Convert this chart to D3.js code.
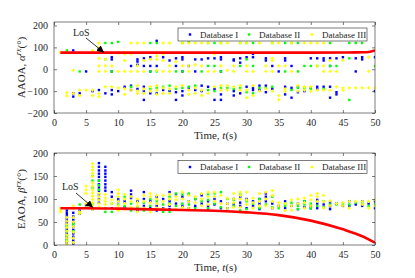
<!DOCTYPE html>
<html>
<head>
<meta charset="utf-8">
<script src="https://cdn.jsdelivr.net/npm/d3@7"></script>
<style>
  body { margin: 0; background: #fff; }
  svg { display: block; }
  text { font-family: "Liberation Serif", "Times New Roman", serif; fill: #262626; }
</style>
</head>
<body>
<div class="chart"></div>
<script>
// AAOA / EAOA scatter vs time, one column of samples per second

var xTicks = [0, 5, 10, 15, 20, 25, 30, 35, 40, 45, 50]
var aaoaTicks = [-200, -100, 0, 100, 200]
var eaoaTicks = [0, 50, 100, 150, 200]
var dbNames = ["Database I", "Database II", "Database III"]

// LoS reference curves
var aaoaLosT = [1, 10, 20, 30, 40, 45, 47, 48, 49, 50]
var aaoaLosV = [76, 76, 76, 76, 76, 76.5, 77, 77.5, 79, 86]
var eaoaLosT = [1, 5, 10, 15, 20, 25, 30, 35, 40, 45, 48, 50]
var eaoaLosV = [80, 80, 79, 77.5, 76, 74.5, 71, 65, 53, 34, 19, 5]

// AAOA samples: [t, [values]]
var aaoaDb1 = [[3,[86,-110,-125]],[4,[-110]],[5,[-10]],[6,[-100]],[7,[95,90,-95]],[8,[-110]],
  [9,[55,45,-10,-95,-115]],[10,[75,-100]],[11,[-80]],[12,[15,-75,-95]],[13,[45,35,20,-90]],
  [14,[50,15,-80,-100,-140]],[15,[55,15,-10,-110]],[16,[130,15,-110]],[17,[55,-95]],[18,[40,-100]],
  [19,[50,15,-105,-140]],[20,[55,45,-10,-100,-120]],[21,[15,-85]],[22,[45,-10,-95]],[23,[45,-75,-100]],
  [24,[50,-80]],[25,[50,-90,-140]],[26,[55,45,-10,-115,-140]],[28,[45,40,-100,-120]],[29,[50,30,-110]],
  [30,[55,-80]],[31,[70,55,-85,-95]],[32,[-75,-95]],[33,[50,40,-75,-105]],[34,[15,-90]],[35,[-10]],
  [36,[50,40,-80,-115]],[37,[15,-85,-130]],[38,[-80,-105]],[39,[-100]],[40,[50,-85]],[41,[50,-80,-90]],
  [42,[50,40,-80]],[43,[50,15,-80,-130]],[44,[50,-105,-115]],[45,[55]],[47,[50,-10]],[48,[55,45]],[50,[55,-100]]]
var aaoaDb2 = [[2,[86]],[4,[-10]],[8,[120,45]],[9,[120,-10]],[10,[125]],[12,[-80]],[15,[120,-10,-90]],
  [16,[120,-10,-85]],[17,[-80]],[18,[-75]],[19,[-10,-90]],[20,[120,-10,-85]],[21,[125,-80]],[22,[-75]],
  [23,[-10]],[24,[120,15,-95]],[25,[120,15,-100]],[26,[120,-10,-85]],[27,[-85]],[28,[-90]],[29,[120,15,-85]],
  [30,[120,45,-105]],[31,[120,15,-110]],[32,[-85]],[33,[-85]],[34,[120,-80]],[36,[120,-10]],[37,[120,-95]],
  [38,[120,-10,-85]],[39,[15,-85]],[40,[15,-90]],[41,[15]],[42,[-90]],[43,[120,15]],[44,[15]],
  [46,[120,50,-140]],[47,[120]],[48,[120]],[50,[15]]]
var aaoaDb3 = [[1,[77]],[2,[-107,-122]],[3,[-5,-110]],[4,[-95,-120]],[5,[-95]],[6,[85,-95,-120]],
  [7,[120,100,50,15,-10,-110,-125]],[8,[75,45,15,-10,-80]],[9,[15,-80]],[10,[75,-10,-85]],
  [11,[70,40,-10,-90,-115]],[12,[120,70,-10,-95]],[13,[120,15,-10,-75,-100,-110]],[14,[120,40,-10,-90,-110]],
  [15,[45,-80,-100]],[16,[75,60,45,-5,-75,-95,-115]],[17,[120,70,40,-10,-85,-110]],[18,[120,15,-10,-90,-110]],
  [19,[35,-80]],[20,[120,15,-75]],[21,[120,15,-10,-95,-115]],[22,[120,20,-85,-110]],[23,[120,15,-95,-120]],
  [24,[120,-10,-110]],[25,[70,-10,-80]],[26,[120,15,-75,-95]],[27,[120,-5,-75,-95]],[28,[15,-10,-80]],
  [29,[120,75,-75,-95]],[30,[120,15,-10,-95,-130]],[31,[-10,-75,-120]],[32,[120,-100]],[33,[15,-10,-90]],
  [34,[120,50,40,-10,-100]],[35,[120,15,-120,-140]],[36,[15,-90,-100]],[37,[120,-10]],[38,[-75,-100]],
  [39,[120,-80,-95]],[40,[120,-80,-100]],[41,[120,15,-95]],[42,[120,15,-10,-95]],[43,[40,-10,-95]],
  [44,[-10,-80]],[45,[40,-85,-95]],[46,[-85]],[47,[-85]],[48,[-85]],[49,[55,-10,-85]],[50,[-85]]]

// EAOA samples: [t, [values]]
var eaoaDb1 = [[2,[75,70,65,60,55,50,45,40,35,30,25,20,15,10,5,0]],[3,[70,62,55,48,40,33,25,18,10,3]],
  [4,[75,68]],[5,[88,85]],[6,[80,78]],[7,[178,170,162,155,148,140,132,125,118,110,100,92]],
  [8,[170,162,155,148,140,132,125,118]],[9,[115,105,80]],[10,[100,95]],[11,[95,82]],[12,[118,110,102,78]],
  [13,[95,75]],[14,[115,100,85]],[15,[95,80]],[16,[105,85,75]],[17,[100,80]],[18,[115,95,85,78]],
  [19,[110,90]],[20,[105,85]],[21,[110,95,80]],[22,[100,85]],[23,[108,90]],[24,[95,85,78]],[25,[100,88]],
  [26,[95,80]],[27,[90,80]],[28,[100,88]],[29,[105,92,85]],[30,[100,80]],[31,[95,85]],[32,[100,90,78]],
  [33,[112,105,95]],[34,[90,80]],[35,[85]],[36,[95,80]],[37,[85]],[38,[90,78]],[39,[95,82]],[40,[85,80]],
  [41,[98,90,80]],[42,[88]],[43,[92,84,78]],[44,[90]],[45,[85]],[46,[95,85]],[47,[88]],[48,[95,85]],
  [49,[90]],[50,[95,80]]]
var eaoaDb2 = [[2,[40,30,20,10]],[3,[45,30]],[4,[88]],[6,[150,140,125,90]],[7,[140,130,120]],[8,[80,72]],
  [9,[90,72]],[10,[88]],[11,[105,85]],[12,[90,75]],[13,[82]],[14,[92,75]],[15,[100,85]],[16,[95]],
  [17,[88,72]],[18,[105,90,72]],[19,[112,85]],[20,[110,90]],[21,[112,88]],[22,[100,80]],[23,[95]],
  [24,[110,98,80]],[25,[112,90]],[26,[115,82]],[27,[100]],[28,[98,85]],[29,[110,75]],[30,[95,78]],
  [31,[90]],[32,[100,80]],[33,[88]],[34,[105,82]],[35,[80]],[36,[90,85]],[37,[92]],[38,[85,78]],
  [39,[95,88]],[40,[90,80]],[41,[85]],[42,[95,82]],[43,[88]],[44,[88]],[45,[90]],[46,[88]],[47,[92]],
  [48,[90]],[49,[85]],[50,[88]]]
var eaoaDb3 = [[1,[80,76,72]],[2,[60,52,45,38,30,22,15,8,2]],[3,[85,80,60,50,40,28,15,5]],[4,[72,68]],
  [5,[128,120,112,90,82]],[6,[177,170,163,156,149,135,128,120,113,106,99,92,85,78]],[7,[112,105,98,90,82]],
  [8,[110,102,95,88]],[9,[98,90]],[10,[120,112,105,95,85,75]],[11,[110,100,90,78]],[12,[105,95,82]],
  [13,[100,92,85,72]],[14,[108,95,80]],[15,[112,105,92,72]],[16,[108,100,90,80]],[17,[108,95,78]],
  [18,[110,100,88]],[19,[105,98,78]],[20,[115,100,82]],[21,[108,95,80]],[22,[105,92]],[23,[112,100,85]],
  [24,[115,105,88]],[25,[115,105,95]],[26,[108,90]],[27,[102,90,80]],[28,[112,100,92,82]],
  [29,[115,108,100,82]],[30,[115,98,88]],[31,[102,92,80]],[32,[112,95,85]],[33,[115,100,85]],
  [34,[118,108,95,80]],[35,[92,85]],[36,[90,75]],[37,[98,85,76]],[38,[100,90]],[39,[102,92,80]],
  [40,[108,98,85]],[41,[112,105,95]],[42,[108,95,80]],[43,[96,85]],[44,[90]],[45,[92,85]],[46,[95,80]],
  [47,[95]],[48,[95,88]],[49,[95,80]],[50,[98,85]]]

var WIDTH = 415, HEIGHT = 278
var LEFT = 54, RIGHT = 375
var COLORS = ["#0000ff", "#00ff00", "#ffff00"]
var AXIS_COLOR = "#262626"

var svg = d3.select(".chart").append("svg")
    .attr("width", WIDTH)
    .attr("height", HEIGHT)

svg.append("defs").append("marker")
    .attr("id", "head")
    .attr("viewBox", "0 0 10 10")
    .attr("refX", 10).attr("refY", 5)
    .attr("markerWidth", 7).attr("markerHeight", 7)
    .attr("markerUnits", "userSpaceOnUse")
    .attr("orient", "auto")
  .append("path")
    .attr("d", "M0,0 L10,5 L0,10 z")
    .attr("fill", "#000")

var x = d3.scaleLinear().domain([0, 50]).range([LEFT, RIGHT])

function flatten(rows) {
  var pts = []
  rows.forEach(function (r) {
    r[1].forEach(function (v) { pts.push([r[0], v]) })
  })
  return pts
}

function drawPanel(cfg) {
  var y = d3.scaleLinear().domain(cfg.yDomain).range([cfg.bottom, cfg.top])
  var g = svg.append("g")

  g.append("rect")
      .attr("x", LEFT).attr("y", cfg.top)
      .attr("width", RIGHT - LEFT).attr("height", cfg.bottom - cfg.top)
      .attr("fill", "#fff")

  var clip = "clip" + cfg.id
  svg.select("defs").append("clipPath").attr("id", clip)
    .append("rect")
      .attr("x", LEFT).attr("y", cfg.top)
      .attr("width", RIGHT - LEFT).attr("height", cfg.bottom - cfg.top)

  var plot = g.append("g").attr("clip-path", "url(#" + clip + ")")

  // scatter, blue then green then yellow on top
  cfg.series.forEach(function (rows, i) {
    var pts = flatten(rows)
    if (i < 2) {
      plot.selectAll(null).data(pts).enter().append("rect")
          .attr("x", function (d) { return x(d[0]) - 1.2 })
          .attr("y", function (d) { return y(d[1]) - 1.2 })
          .attr("width", 2.4).attr("height", 2.4)
          .attr("fill", COLORS[i])
    } else {
      plot.selectAll(null).data(pts).enter().append("path")
          .attr("d", function (d) {
            var cx = x(d[0]), cy = y(d[1])
            return "M" + (cx - 1.6) + "," + cy + "h3.2M" + cx + "," + (cy - 1.6) + "v3.2"
          })
          .attr("stroke", COLORS[i])
          .attr("stroke-width", 1.3)
    }
  })

  // LoS curve
  var los = cfg.losT.map(function (t, i) { return [t, cfg.losV[i]] })
  plot.append("path")
      .datum(los)
      .attr("d", d3.line()
        .x(function (d) { return x(d[0]) })
        .y(function (d) { return y(d[1]) })
        .curve(d3.curveMonotoneX))
      .attr("fill", "none")
      .attr("stroke", "#ff0000")
      .attr("stroke-width", 2.6)

  // axes, MATLAB style: ticks inside on all four sides
  var bottomAxis = g.append("g")
      .attr("transform", "translate(0," + cfg.bottom + ")")
      .call(d3.axisBottom(x).tickValues(xTicks).tickSizeInner(-3).tickSizeOuter(0).tickPadding(6))
  var topAxis = g.append("g")
      .attr("transform", "translate(0," + cfg.top + ")")
      .call(d3.axisTop(x).tickValues(xTicks).tickSizeInner(-3).tickSizeOuter(0).tickFormat(""))
  var leftAxis = g.append("g")
      .attr("transform", "translate(" + LEFT + ",0)")
      .call(d3.axisLeft(y).tickValues(cfg.yTicks).tickSizeInner(-3).tickSizeOuter(0).tickPadding(6))
  var rightAxis = g.append("g")
      .attr("transform", "translate(" + RIGHT + ",0)")
      .call(d3.axisRight(y).tickValues(cfg.yTicks).tickSizeInner(-3).tickSizeOuter(0).tickFormat(""))

  ;[bottomAxis, topAxis, leftAxis, rightAxis].forEach(function (a) {
    a.select(".domain").remove()
    a.selectAll("line").attr("stroke", AXIS_COLOR).attr("stroke-width", 0.6)
    a.selectAll("text")
        .attr("fill", AXIS_COLOR)
        .style("font-family", "'Liberation Serif', serif")
        .style("font-size", "10px")
  })

  g.append("rect")
      .attr("x", LEFT).attr("y", cfg.top)
      .attr("width", RIGHT - LEFT).attr("height", cfg.bottom - cfg.top)
      .attr("fill", "none")
      .attr("stroke", AXIS_COLOR)
      .attr("stroke-width", 0.6)

  // x label
  var xl = g.append("text")
      .attr("x", (LEFT + RIGHT) / 2 + 1)
      .attr("y", cfg.bottom + 26)
      .attr("text-anchor", "middle")
      .style("font-size", "11px")
  xl.append("tspan").text("Time, ")
  xl.append("tspan").attr("font-style", "italic").text("t")
  xl.append("tspan").text("(s)")

  // y label
  var yl = g.append("text")
      .attr("transform", "translate(25," + ((cfg.top + cfg.bottom) / 2) + ") rotate(-90)")
      .attr("text-anchor", "middle")
      .style("font-size", "11px")
  yl.append("tspan").text(cfg.yName + ", ")
  yl.append("tspan").attr("font-style", "italic").text(cfg.greek)
  yl.append("tspan").attr("font-style", "italic").attr("font-size", "8px").attr("dy", -4).text("rx")
  yl.append("tspan").attr("dy", 4).text("(°)")

  // legend
  var lg = g.append("g").attr("transform", "translate(178," + cfg.legendY + ")")
  lg.append("rect")
      .attr("width", 189).attr("height", 13)
      .attr("fill", "#fff")
      .attr("stroke", AXIS_COLOR)
      .attr("stroke-width", 0.6)
  var legX = [12, 71, 134]
  dbNames.forEach(function (name, i) {
    if (i < 2) {
      lg.append("rect")
          .attr("x", legX[i] - 1.2).attr("y", 6.5 - 1.2)
          .attr("width", 2.4).attr("height", 2.4)
          .attr("fill", COLORS[i])
    } else {
      lg.append("path")
          .attr("d", "M" + (legX[i] - 1.6) + ",6.5h3.2M" + legX[i] + ",4.9v3.2")
          .attr("stroke", COLORS[i]).attr("stroke-width", 1.3)
    }
    lg.append("text")
        .attr("x", legX[i] + 10)
        .attr("y", 9.8)
        .style("font-size", "9px")
        .text(name)
  })

  // LoS annotation
  g.append("text")
      .attr("x", cfg.losLabel[0]).attr("y", cfg.losLabel[1])
      .style("font-size", "10px")
      .attr("fill", "#000")
      .text("LoS")
  g.append("line")
      .attr("x1", cfg.arrow[0]).attr("y1", cfg.arrow[1])
      .attr("x2", cfg.arrow[2]).attr("y2", cfg.arrow[3])
      .attr("stroke", "#000")
      .attr("stroke-width", 0.8)
      .attr("marker-end", "url(#head)")
}

drawPanel({
  id: "a", top: 22, bottom: 113, yDomain: [-200, 216], yTicks: aaoaTicks,
  series: [aaoaDb1, aaoaDb2, aaoaDb3], losT: aaoaLosT, losV: aaoaLosV,
  yName: "AAOA", greek: "α", legendY: 28,
  losLabel: [73, 35.5], arrow: [86, 38, 104, 52.5]
})

drawPanel({
  id: "e", top: 153, bottom: 245, yDomain: [0, 200], yTicks: eaoaTicks,
  series: [eaoaDb1, eaoaDb2, eaoaDb3], losT: eaoaLosT, losV: eaoaLosV,
  yName: "EAOA", greek: "β", legendY: 160.5,
  losLabel: [62, 190], arrow: [76, 193, 93, 207.5]
})
</script>
</body>
</html>
